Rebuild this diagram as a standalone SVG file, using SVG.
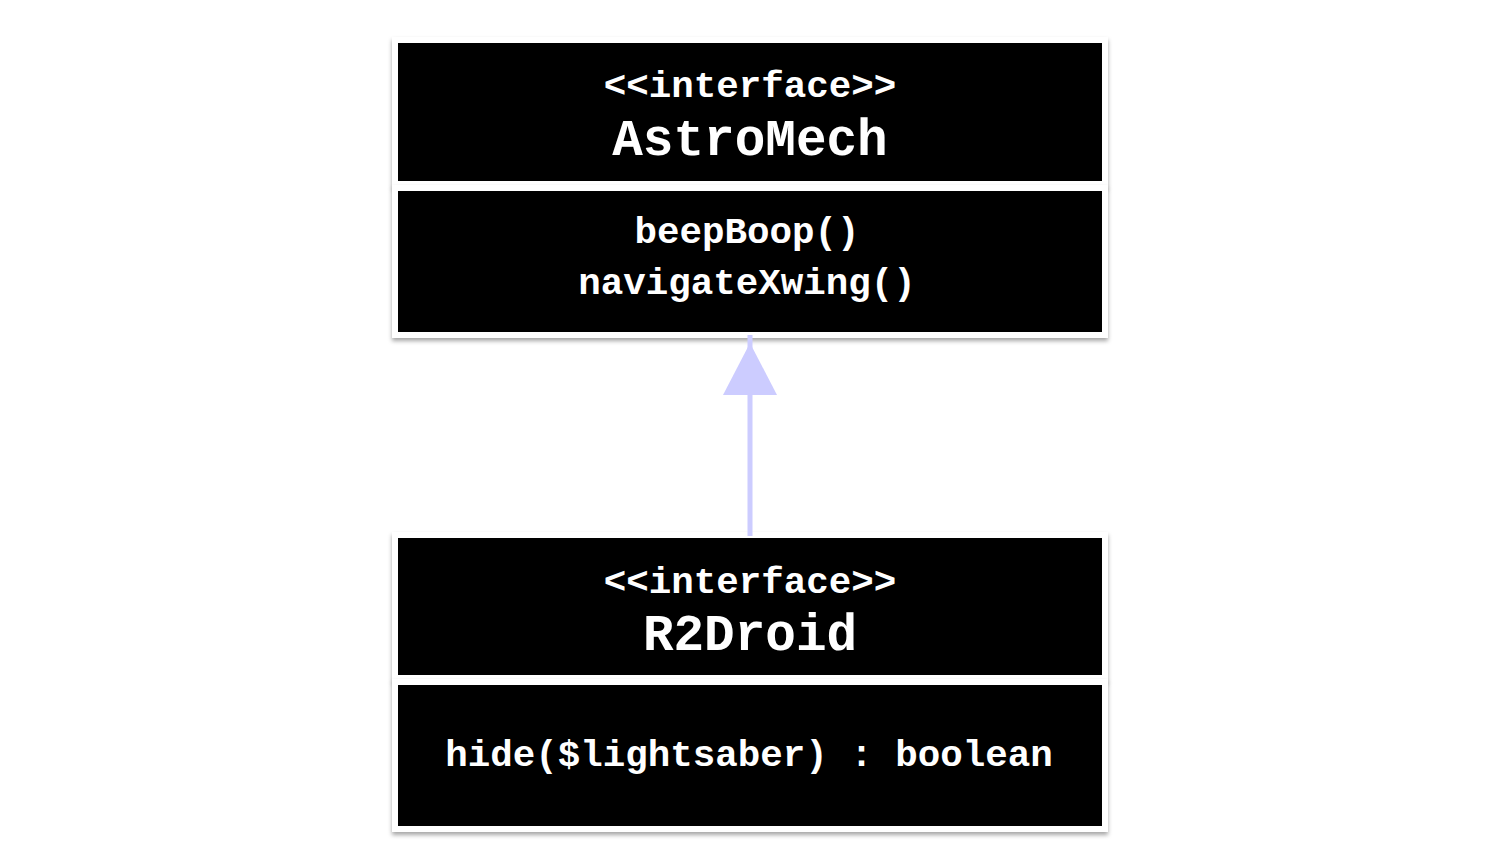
<svg xmlns="http://www.w3.org/2000/svg" width="1500" height="868" viewBox="0 0 1500 868">
  <style>
    .box { fill: #000000; stroke: #ffffff; stroke-width: 6; filter: url(#shadow); }
    .t { font-family: "Liberation Mono", "Courier New", monospace; font-weight: bold; fill: #ffffff; text-anchor: middle; }
    .st { font-size: 37.5px; }
    .nm { font-size: 51px; }
    .m { font-size: 37.5px; }
    .conn { stroke: #ccccff; stroke-width: 5; fill: none; }
  </style>
  <defs>
    <filter id="shadow" x="-5%" y="-10%" width="110%" height="125%">
      <feDropShadow dx="0" dy="3" stdDeviation="2" flood-color="#000000" flood-opacity="0.35"/>
    </filter>
  </defs>
  <rect width="1500" height="868" fill="#ffffff"/>
  <g id="AstroMech">
    <rect class="box" x="395" y="40" width="710" height="144"/>
    <rect class="box" x="395" y="188" width="710" height="147"/>
    <text class="t st" x="750" y="97">&lt;&lt;interface&gt;&gt;</text>
    <text class="t nm" x="750" y="155">AstroMech</text>
    <text class="t m" x="747" y="243">beepBoop()</text>
    <text class="t m" x="747" y="294">navigateXwing()</text>
  </g>
  <g id="R2Droid">
    <rect class="box" x="395" y="535" width="710" height="143"/>
    <rect class="box" x="395" y="682" width="710" height="147"/>
    <text class="t st" x="750" y="593">&lt;&lt;interface&gt;&gt;</text>
    <text class="t nm" x="750" y="650">R2Droid</text>
    <text class="t m" x="749" y="766">hide($lightsaber) : boolean</text>
  </g>
  <g id="connectors">
    <line class="conn" x1="750" y1="536" x2="750" y2="335"/>
    <polygon points="750,343 723,395 777,395" fill="#ccccff"/>
  </g>
</svg>
